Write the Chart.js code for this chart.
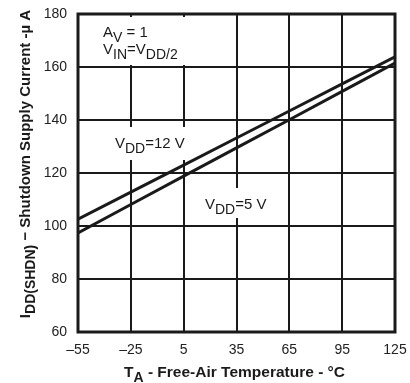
<!DOCTYPE html>
<html>
<head>
<meta charset="utf-8">
<script src="https://cdn.jsdelivr.net/npm/chart.js@4/dist/chart.umd.min.js"></script>
<style>
  html, body { margin: 0; padding: 0; background: #fff; }
  #wrap { width: 410px; height: 383px; position: relative; }
</style>
</head>
<body>
<div id="wrap"><canvas id="chart"></canvas></div>
<script>
// temperature points (°C) and supply current (µA)
const temps = [-55, -25, 5, 35, 65, 95, 125];
const vdd12 = [102.6, 112.8, 123.0, 133.2, 143.4, 153.6, 163.8];
const vdd5 = [97.4, 108.1, 118.8, 129.5, 140.1, 150.8, 161.5];
const xTicks = [-55, -25, 5, 35, 65, 95, 125];
const yTicks = [60, 80, 100, 120, 140, 160, 180];

const FONT = '"Liberation Sans", Arial, sans-serif';

// draw a run of text pieces, some of them as subscripts
function richText(ctx, parts, x, y, size, bold, align, subSize, drop) {
  const w = bold ? 'bold ' : '';
  let total = 0;
  parts.forEach(p => {
    ctx.font = w + (p.sub ? subSize : size) + 'px ' + FONT;
    p.w = ctx.measureText(p.t).width;
    total += p.w;
  });
  let cx = align === 'center' ? x - total / 2 : x;
  ctx.textAlign = 'left';
  ctx.textBaseline = 'alphabetic';
  parts.forEach(p => {
    ctx.font = w + (p.sub ? subSize : size) + 'px ' + FONT;
    ctx.fillText(p.t, cx, p.sub ? y + drop : y);
    cx += p.w;
  });
  return total;
}

const notes = [
  { x: 103, y: 37, parts: [{ t: 'A' }, { t: 'V', sub: true }, { t: ' = 1' }], box: [98, 17, 96, 48] },
  { x: 103, y: 54, parts: [{ t: 'V' }, { t: 'IN', sub: true }, { t: '=V' }, { t: 'DD/2', sub: true }] },
  { x: 115, y: 148, parts: [{ t: 'V' }, { t: 'DD', sub: true }, { t: '=12 V' }], box: [112, 127, 80, 33] },
  { x: 205, y: 209, parts: [{ t: 'V' }, { t: 'DD', sub: true }, { t: '=5 V' }], box: [202, 188, 72, 30] }
];

const decor = {
  id: 'decor',
  beforeDatasetsDraw(chart) {
    const ctx = chart.ctx;
    ctx.save();
    ctx.fillStyle = '#fff';
    notes.forEach(n => { if (n.box) ctx.fillRect(n.box[0], n.box[1], n.box[2], n.box[3]); });
    ctx.restore();
  },
  afterDatasetsDraw(chart) {
    const ctx = chart.ctx;
    const a = chart.chartArea;
    ctx.save();
    ctx.strokeStyle = '#1a1a1a';
    ctx.lineWidth = 3;
    ctx.strokeRect(a.left, a.top, a.right - a.left, a.bottom - a.top);
    ctx.fillStyle = '#1a1a1a';
    notes.forEach(n => richText(ctx, n.parts, n.x, n.y, 15, false, 'left', 14, 5));

    // x axis title
    richText(ctx, [{ t: 'T' }, { t: 'A', sub: true }, { t: ' - Free-Air Temperature - °C' }],
      (a.left + a.right) / 2 - 2, 377, 15.5, true, 'center', 14, 5);

    // y axis title, rotated
    ctx.translate(30, 164);
    ctx.rotate(-Math.PI / 2);
    richText(ctx, [{ t: 'I' }, { t: 'DD(SHDN)', sub: true }, { t: ' \u2212 Shutdown Supply Current -\u00b5 A' }],
      0, 0, 15, true, 'center', 14, 5);
    ctx.restore();
  }
};

const lineStyle = {
  borderColor: '#1a1a1a',
  borderWidth: 3,
  pointRadius: 0,
  tension: 0,
  fill: false
};

new Chart(document.getElementById('chart').getContext('2d'), {
  type: 'line',
  data: {
    datasets: [
      Object.assign({ label: 'VDD=12 V', data: temps.map((t, i) => ({ x: t, y: vdd12[i] })) }, lineStyle),
      Object.assign({ label: 'VDD=5 V', data: temps.map((t, i) => ({ x: t, y: vdd5[i] })) }, lineStyle)
    ]
  },
  options: {
    responsive: true,
    maintainAspectRatio: false,
    animation: false,
    events: [],
    layout: { padding: { top: 14, right: 15, left: 0, bottom: 0 } },
    plugins: { legend: { display: false }, tooltip: { enabled: false } },
    scales: {
      x: {
        type: 'linear',
        min: -55,
        max: 125,
        afterBuildTicks: s => { s.ticks = xTicks.map(v => ({ value: v })); },
        afterFit: s => { s.height = 51; s.paddingLeft = 0; s.paddingRight = 0; },
        grid: { color: '#1a1a1a', lineWidth: 2, drawTicks: false },
        border: { display: false },
        ticks: {
          padding: 10,
          color: '#222',
          font: { family: FONT, size: 14 },
          callback: v => (v < 0 ? '\u2013' + Math.abs(v) : '' + v)
        }
      },
      y: {
        min: 60,
        max: 180,
        afterBuildTicks: s => { s.ticks = yTicks.map(v => ({ value: v })); },
        afterFit: s => { s.width = 78; s.paddingTop = 0; s.paddingBottom = 0; },
        grid: { color: '#1a1a1a', lineWidth: 2, drawTicks: false },
        border: { display: false },
        ticks: {
          padding: 11,
          color: '#222',
          font: { family: FONT, size: 14 }
        }
      }
    }
  },
  plugins: [decor]
});
</script>
</body>
</html>
